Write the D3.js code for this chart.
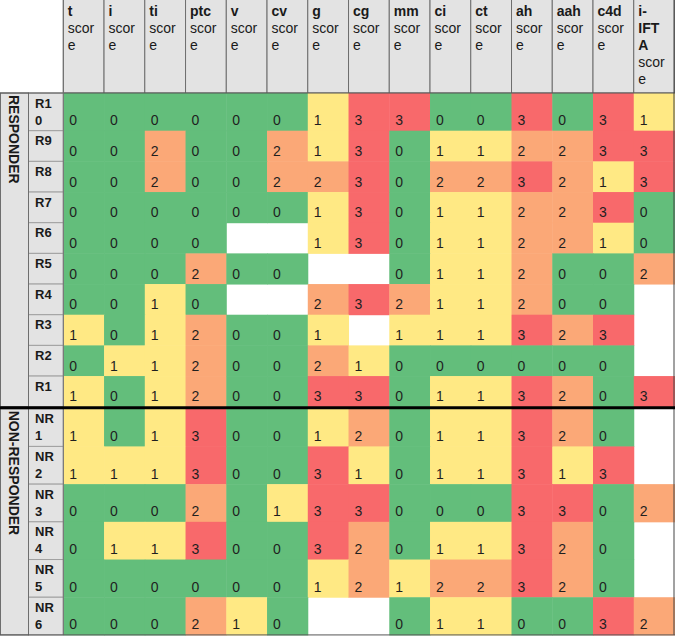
<!DOCTYPE html>
<html lang="en">
<head>
  <meta charset="UTF-8">
  <title>score heatmap</title>
  <style>
    body { margin: 0; background: #fff; }
    svg { display: block; font-family: "Liberation Sans", Arial, sans-serif; }
  </style>
</head>
<body>
<div id="table"></div>
<script src="https://cdn.jsdelivr.net/npm/d3@7"></script>
<script>
// column names, each header reads "<name> score"
const columns = ['t', 'i', 'ti', 'ptc', 'v', 'cv', 'g', 'cg', 'mm', 'ci', 'ct', 'ah', 'aah', 'c4d', 'i-IFTA']
const headerSuffix = 'score'
const groups = ['RESPONDER', 'NON-RESPONDER']
const responders = ['R10', 'R9', 'R8', 'R7', 'R6', 'R5', 'R4', 'R3', 'R2', 'R1']
const nonResponders = ['NR1', 'NR2', 'NR3', 'NR4', 'NR5', 'NR6']
// null = empty cell
const responderScores = [
  [0, 0, 0, 0, 0, 0, 1, 3, 3, 0, 0, 3, 0, 3, 1],
  [0, 0, 2, 0, 0, 2, 1, 3, 0, 1, 1, 2, 2, 3, 3],
  [0, 0, 2, 0, 0, 2, 2, 3, 0, 2, 2, 3, 2, 1, 3],
  [0, 0, 0, 0, 0, 0, 1, 3, 0, 1, 1, 2, 2, 3, 0],
  [0, 0, 0, 0, null, null, 1, 3, 0, 1, 1, 2, 2, 1, 0],
  [0, 0, 0, 2, 0, 0, null, null, 0, 1, 1, 2, 0, 0, 2],
  [0, 0, 1, 0, null, null, 2, 3, 2, 1, 1, 2, 0, 0, null],
  [1, 0, 1, 2, 0, 0, 1, null, 1, 1, 1, 3, 2, 3, null],
  [0, 1, 1, 2, 0, 0, 2, 1, 0, 0, 0, 0, 0, 0, null],
  [1, 0, 1, 2, 0, 0, 3, 3, 0, 1, 1, 3, 2, 0, 3]
]
const nonResponderScores = [
  [1, 0, 1, 3, 0, 0, 1, 2, 0, 1, 1, 3, 2, 0, null],
  [1, 1, 1, 3, 0, 0, 3, 1, 0, 1, 1, 3, 1, 3, null],
  [0, 0, 0, 2, 0, 1, 3, 3, 0, 0, 0, 3, 3, 0, 2],
  [0, 1, 1, 3, 0, 0, 3, 2, 0, 1, 1, 3, 2, 0, null],
  [0, 0, 0, 0, 0, 0, 1, 2, 1, 2, 2, 3, 2, 0, null],
  [0, 0, 0, 2, 1, 0, null, null, 0, 1, 1, 0, 0, 3, 2]
]
const scoreLevels = [0, 1, 2, 3]
const levelColors = ['#63be7b', '#ffe984', '#fba877', '#f8696b']

let width = 675
let height = 636
let groupW = 28.5
let labelRight = 63.3
let lineH = 17

let svg = d3.select('#table').append('svg').attr('width', width).attr('height', height)

// 用隐藏的 text 量宽度, 模拟表格里的自动换行
let probe = svg.append('text').attr('x', 100).attr('y', 100).attr('visibility', 'hidden')
function measure(str, size, weight) {
  probe.attr('font-size', size).attr('font-weight', weight).text(str)
  return probe.node().getComputedTextLength()
}
function wrap(str, size, weight, maxW) {
  let tokens = str.replace(/-/g, '- ').split(' ').filter(d => d)
  let lines = []
  let cur = ''
  tokens.forEach(tok => {
    let sep = cur === '' || cur.endsWith('-') ? '' : ' '
    if (cur !== '' && measure(cur + sep + tok, size, weight) <= maxW) { cur = cur + sep + tok; return }
    if (cur !== '') lines.push(cur)
    cur = ''
    for (const ch of tok) {
      if (cur !== '' && measure(cur + ch, size, weight) > maxW) { lines.push(cur); cur = '' }
      cur += ch
    }
  })
  if (cur !== '') lines.push(cur)
  return lines
}

// header lines
let headerLines = columns.map(c => {
  let a = wrap(c, 14, 'bold', 30).map(t => ({ t, bold: true }))
  let b = wrap(headerSuffix, 14, 'normal', 30).map(t => ({ t, bold: false }))
  return a.concat(b)
})
let headerH = 16 + lineH * (d3.max(headerLines, d => d.length) - 1) + 9

// row layout
let rows = responders.concat(nonResponders)
let scores = responderScores.concat(nonResponderScores)
let rowLines = rows.map(r => wrap(r, 13, 'bold', 21))
probe.remove()
let rowHeights = rowLines.map(l => Math.max(30.67, 14 + lineH * (l.length - 1) + 6.7))
let gap = 2
let offsets = []
let acc = headerH
rows.forEach((r, i) => {
  if (i === responders.length) acc += gap
  offsets.push(acc)
  acc += rowHeights[i]
})
let yPos = d3.scaleOrdinal().domain(rows).range(offsets)
let rowH = d3.scaleOrdinal().domain(rows).range(rowHeights)
let x = d3.scaleBand().domain(columns).range([labelRight, width - 0.5])
let color = d3.scaleOrdinal().domain(scoreLevels).range(levelColors)

// header cells
let head = svg.append('g').attr('class', 'header')
head.selectAll('rect').data(columns).join('rect')
  .attr('x', d => x(d)).attr('y', -1)
  .attr('width', x.bandwidth()).attr('height', headerH + 1)
  .attr('fill', '#e3e3e3').attr('stroke', '#6e6e6e')
head.selectAll('text').data(columns).join('text')
  .attr('x', d => x(d) + 4.5)
  .attr('font-size', 14).attr('fill', '#1a1a1a')
  .each(function (d, i) {
    d3.select(this).selectAll('tspan').data(headerLines[i]).join('tspan')
      .attr('x', x(d) + 4.5)
      .attr('y', (l, j) => 16 + j * lineH)
      .attr('font-weight', l => l.bold ? 'bold' : 'normal')
      .text(l => l.t)
  })

// data cells
let body = svg.append('g').attr('class', 'cells')
rows.forEach((r, ri) => {
  let g = body.append('g')
  let cells = columns.map((c, ci) => ({ c, v: scores[ri][ci] }))
  g.selectAll('rect').data(cells.filter(d => d.v !== null)).join('rect')
    .attr('x', d => x(d.c)).attr('y', yPos(r))
    .attr('width', x.bandwidth() + 0.5).attr('height', rowH(r) + 0.5)
    .attr('fill', d => color(d.v))
  g.selectAll('text').data(cells.filter(d => d.v !== null)).join('text')
    .attr('x', d => x(d.c) + 6)
    .attr('y', yPos(r) + rowH(r) - 5.5)
    .attr('font-size', 14).attr('fill', '#1f1f1f')
    .text(d => d.v)
})

// row labels
let lab = svg.append('g').attr('class', 'labels')
lab.selectAll('rect').data(rows).join('rect')
  .attr('x', groupW).attr('y', d => yPos(d))
  .attr('width', labelRight - groupW).attr('height', d => rowH(d))
  .attr('fill', '#e3e3e3').attr('stroke', '#a0a0a0')
lab.selectAll('text').data(rows).join('text')
  .attr('font-size', 13).attr('font-weight', 'bold').attr('fill', '#1a1a1a')
  .each(function (d, i) {
    d3.select(this).selectAll('tspan').data(rowLines[i]).join('tspan')
      .attr('x', 35)
      .attr('y', (l, j) => yPos(d) + 14.5 + j * lineH)
      .text(l => l)
  })

// group column
let groupRows = [responders, nonResponders]
let grp = svg.append('g').attr('class', 'groups')
groupRows.forEach((list, gi) => {
  let top = yPos(list[0])
  let last = list[list.length - 1]
  let bottom = yPos(last) + rowH(last)
  grp.append('rect').attr('x', 0.5).attr('y', top).attr('width', groupW - 0.5).attr('height', bottom - top)
    .attr('fill', '#e3e3e3').attr('stroke', '#6e6e6e')
  grp.append('text').text(groups[gi])
    .attr('transform', 'translate(8.5,' + (top + 2) + ') rotate(90)')
    .attr('font-size', 14).attr('font-weight', 'bold').attr('fill', '#1a1a1a')
})

// outer lines
let lastRow = rows[rows.length - 1]
let bottomY = yPos(lastRow) + rowH(lastRow)
svg.append('line').attr('x1', 0).attr('x2', width).attr('y1', headerH).attr('y2', headerH).attr('stroke', '#555')
svg.append('line').attr('x1', labelRight).attr('x2', labelRight).attr('y1', 0).attr('y2', bottomY).attr('stroke', '#6e6e6e')
svg.append('line').attr('x1', width - 1).attr('x2', width - 1).attr('y1', 0).attr('y2', bottomY).attr('stroke', '#444')
svg.append('line').attr('x1', 0).attr('x2', width).attr('y1', bottomY).attr('y2', bottomY).attr('stroke', '#555')
let split = yPos(nonResponders[0]) - gap / 2
svg.append('line').attr('x1', 0).attr('x2', width).attr('y1', split).attr('y2', split)
  .attr('stroke', '#000').attr('stroke-width', 3)
</script>
</body>
</html>
